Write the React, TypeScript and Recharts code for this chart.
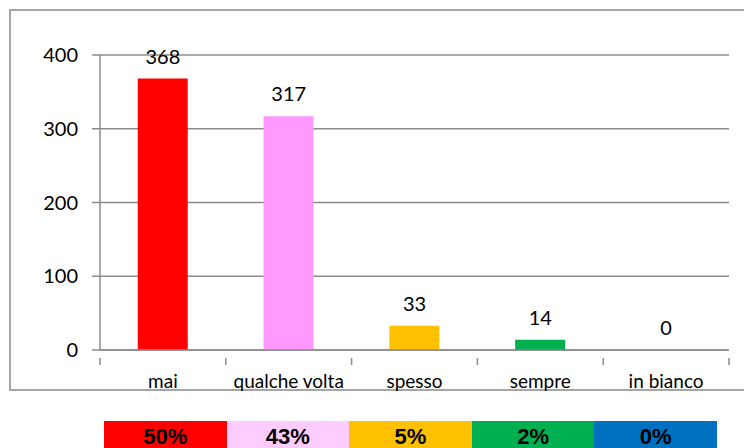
import { ComposedChart, Bar, Line, XAxis, YAxis, CartesianGrid, Cell, LabelList } from "recharts";

const categories = ["mai", "qualche volta", "spesso", "sempre", "in bianco"];
const counts = [368, 317, 33, 14, 0];
const barColors = ["#FF0000", "#FF99FF", "#FFC000", "#00B050", "#0070C0"];
const yTicks = [0, 100, 200, 300, 400];

const percentLabels = ["50%", "43%", "5%", "2%", "0%"];
const boxColors = ["#FF0000", "#FFCCFF", "#FFC000", "#00B050", "#0070C0"];

const data = categories.map((name, i) => ({ name, value: counts[i] }));

const W = 744;
const H = 448;
const PLOT_LEFT = 100;
const PLOT_RIGHT = 729;
const BAND = (PLOT_RIGHT - PLOT_LEFT) / categories.length;
const AXIS = "#8C8C8C";
const FONT = "Lato, 'Noto Sans', sans-serif";

// category label at the band centre, tick marks on the band edges (like Excel)
function CategoryTick(props: any) {
  const { x, y, payload, index } = props;
  const last = index === categories.length - 1;
  return (
    <g>
      <line x1={x - BAND / 2} y1={y} x2={x - BAND / 2} y2={y + 7} stroke={AXIS} strokeWidth={1.5} />
      {last && <line x1={x + BAND / 2} y1={y} x2={x + BAND / 2} y2={y + 7} stroke={AXIS} strokeWidth={1.5} />}
      <text x={x} y={y + 30} textAnchor="middle" fontSize={19} fill="#000" fontFamily={FONT}>
        {payload.value}
      </text>
    </g>
  );
}

export default function App() {
  return (
    <div style={{ position: "fixed", left: 0, top: 0, width: W, height: H, background: "#fff", overflow: "hidden" }}>
      {/* outer frame, its right edge runs off the picture */}
      <div
        style={{
          position: "absolute",
          left: 9,
          top: 9,
          width: W + 20,
          height: 382,
          border: "2px solid #A6A6A6",
          boxSizing: "border-box",
        }}
      />
      <div style={{ position: "absolute", left: 0, top: 0 }}>
        <ComposedChart
          width={W}
          height={H}
          data={data}
          margin={{ top: 55, right: W - PLOT_RIGHT, bottom: H - 350 - 40, left: 40 }}
          barCategoryGap="30%"
        >
          <CartesianGrid vertical={false} stroke={AXIS} strokeWidth={1.5} />
          <XAxis
            dataKey="name"
            height={40}
            axisLine={{ stroke: AXIS, strokeWidth: 1.5 }}
            tickLine={false}
            tick={<CategoryTick />}
            interval={0}
          />
          <YAxis
            width={60}
            domain={[0, 400]}
            ticks={yTicks}
            axisLine={{ stroke: AXIS, strokeWidth: 1.5 }}
            tickLine={{ stroke: AXIS, strokeWidth: 1.5 }}
            tickSize={8}
            tickMargin={14}
            tick={{ fontSize: 20, fill: "#000", fontFamily: FONT }}
          />
          <Bar dataKey="value" isAnimationActive={false}>
            {data.map((d, i) => (
              <Cell key={d.name} fill={barColors[i]} />
            ))}
          </Bar>
          {/* invisible line only to carry the value labels (incl. the zero one) */}
          <Line dataKey="value" stroke="none" dot={false} activeDot={false} isAnimationActive={false} legendType="none">
            <LabelList dataKey="value" position="top" offset={15} fontSize={20} fill="#000" fontFamily={FONT} />
          </Line>
        </ComposedChart>
      </div>
      {/* percentage strip */}
      <div style={{ position: "absolute", left: 104, top: 421, display: "flex" }}>
        {percentLabels.map((p, i) => (
          <div
            key={p}
            style={{
              width: 122.6,
              height: 30,
              background: boxColors[i],
              color: "#000",
              fontFamily: "'Liberation Sans', Arial, sans-serif",
              fontWeight: "bold",
              fontSize: 22,
              lineHeight: "32px",
              textAlign: "center",
            }}
          >
            {p}
          </div>
        ))}
      </div>
    </div>
  );
}
